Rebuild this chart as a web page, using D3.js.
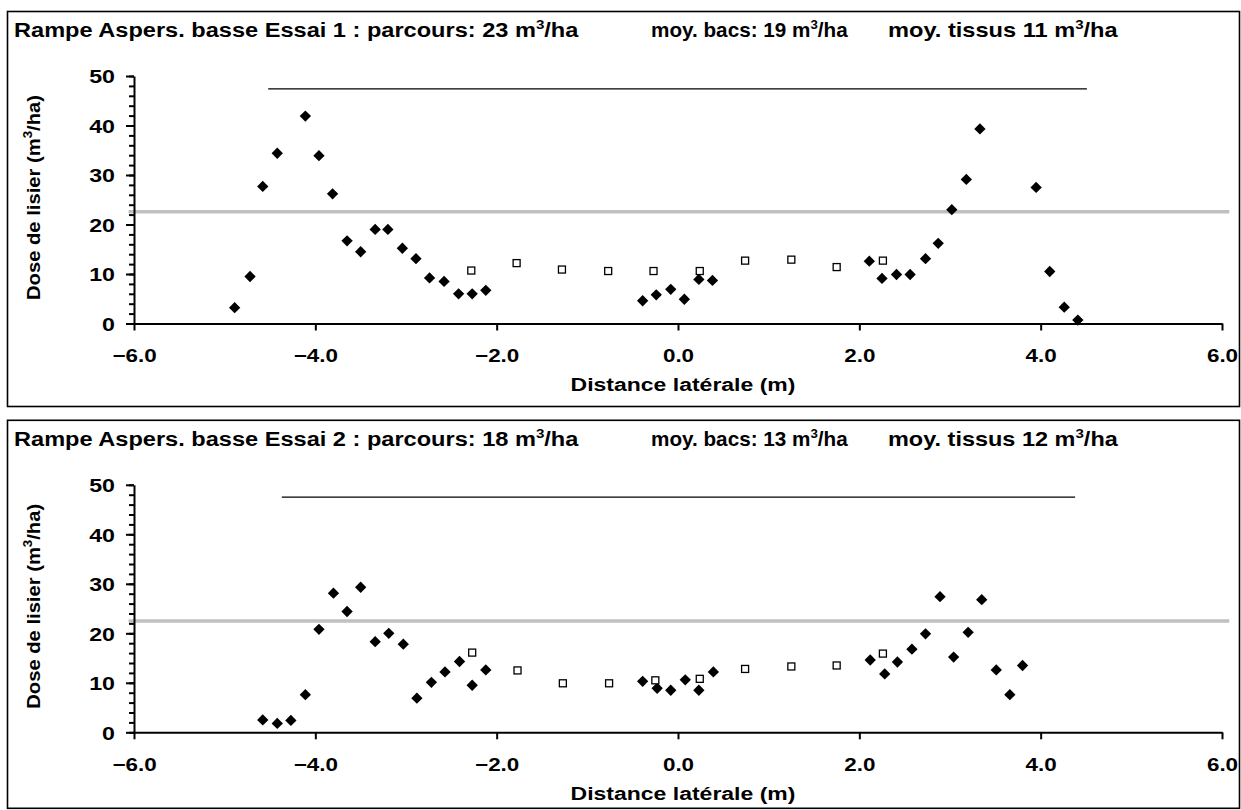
<!DOCTYPE html>
<html>
<head>
<meta charset="utf-8">
<script src="https://cdn.jsdelivr.net/npm/d3@7"></script>
<style>
  body { margin: 0; background: #fff; }
  svg { display: block; }
  text { font-family: "Liberation Sans", Arial, sans-serif; font-weight: bold; fill: #000; }
</style>
</head>
<body>
<svg id="chart" width="1241" height="810"></svg>
<script>
// ---- Essai 1 : tissue samples (black diamonds) ----
const essai1TissusX = [-4.89, -4.72, -4.58, -4.42, -4.11, -3.96, -3.81, -3.65, -3.50, -3.34, -3.20, -3.04, -2.89, -2.74, -2.58, -2.42, -2.27, -2.12,
                       -0.39, -0.24, -0.08, 0.07, 0.23, 0.38,
                       2.11, 2.25, 2.41, 2.56, 2.73, 2.87, 3.02, 3.18, 3.33, 3.95, 4.10, 4.26, 4.41];
const essai1TissusY = [3.2, 9.5, 27.7, 34.4, 41.9, 33.9, 26.2, 16.7, 14.5, 19.0, 19.0, 15.2, 13.1, 9.2, 8.5, 6.0, 6.0, 6.7,
                       4.6, 5.8, 6.9, 4.9, 8.9, 8.7,
                       12.6, 9.1, 9.9, 9.9, 13.1, 16.2, 23.0, 29.1, 39.3, 27.5, 10.5, 3.3, 0.7];
// ---- Essai 1 : collecting trays (open squares) ----
const essai1BacsX = [-2.28, -1.78, -1.28, -0.77, -0.27, 0.24, 0.74, 1.25, 1.75, 2.26];
const essai1BacsY = [10.7, 12.2, 10.9, 10.6, 10.6, 10.6, 12.7, 12.9, 11.4, 12.7];

// ---- Essai 2 : tissue samples ----
const essai2TissusX = [-4.58, -4.42, -4.27, -4.11, -3.96, -3.80, -3.65, -3.50, -3.34, -3.19, -3.03, -2.88, -2.72, -2.57, -2.41, -2.27, -2.12,
                       -0.39, -0.23, -0.08, 0.08, 0.23, 0.39,
                       2.12, 2.28, 2.42, 2.58, 2.73, 2.89, 3.04, 3.20, 3.35, 3.51, 3.66, 3.80];
const essai2TissusY = [2.5, 1.8, 2.4, 7.6, 20.8, 28.1, 24.4, 29.3, 18.3, 20.0, 17.8, 6.9, 10.1, 12.2, 14.3, 9.5, 12.6,
                       10.3, 8.9, 8.5, 10.6, 8.5, 12.2,
                       14.6, 11.8, 14.2, 16.8, 19.9, 27.4, 15.2, 20.2, 26.8, 12.6, 7.6, 13.5];
// ---- Essai 2 : collecting trays ----
const essai2BacsX = [-2.27, -1.77, -1.27, -0.76, -0.25, 0.24, 0.74, 1.25, 1.75, 2.26];
const essai2BacsY = [16.1, 12.5, 9.9, 9.9, 10.5, 10.8, 12.8, 13.3, 13.5, 15.9];

// ---- reference lines: [x start, x end, y] ----
const essai1GreyLine  = [-6.06, 6.08, 22.6];
const essai1BoomLine  = [-4.52, 4.51, 47.4];
const essai2GreyLine  = [-6.06, 6.08, 22.5];
const essai2BoomLine  = [-4.37, 4.38, 47.5];

// ---- titles ----
const essai1Title = ["Rampe Aspers. basse Essai 1 : parcours: 23", "moy. bacs: 19", "moy. tissus 11"];
const essai2Title = ["Rampe Aspers. basse Essai 2 : parcours: 18", "moy. bacs: 13", "moy. tissus 12"];

// ---- axes ----
const xTickValues = [-6, -4, -2, 0, 2, 4, 6];
const yTickValues = [0, 10, 20, 30, 40, 50];
const yMinorTickValues = d3.range(0, 51, 2);
const xDomain = [-6, 6];
const yDomain = [0, 50];
const xAxisTitle = "Distance latérale (m)";
const yAxisTitleParts = ["Dose de lisier (m", "3", "/ha)"];

const svg = d3.select("#chart");
const fmtX = d3.format(".1f");

// Stretch a text horizontally so that it spans the wanted width.
function fitWidth(sel, width) {
  const w = sel.node().getBBox().width;
  return w > 0 ? width / w : 1;
}

function drawPanel(cfg) {
  const g = svg.append("g");
  const top = cfg.top;

  // outer frame
  g.append("rect")
    .attr("x", 7.5).attr("y", top + 0.5)
    .attr("width", 1232).attr("height", cfg.height)
    .attr("fill", "none").attr("stroke", "#000").attr("stroke-width", 1.6);

  const y0 = top + 312.5;
  const x = d3.scaleLinear().domain(xDomain).range([134, 1222]);
  const y = d3.scaleLinear().domain(yDomain).range([y0, y0 - 247.5]);

  // title, three parts each ending with m³/ha
  const starts = [14, 651, 888];
  const widths = [565, 197, 230];
  cfg.title.forEach((t, i) => {
    const tx = g.append("text").attr("font-size", 19.5);
    tx.append("tspan").text(t + " m");
    tx.append("tspan").attr("font-size", 12.5).attr("dy", -8).text("3");
    tx.append("tspan").attr("dy", 8).text("/ha");
    const s = fitWidth(tx, widths[i]);
    tx.attr("transform", `translate(${starts[i]},${top + 26}) scale(${s},1)`);
  });

  // grey reference line
  g.append("line")
    .attr("x1", x(cfg.grey[0])).attr("x2", x(cfg.grey[1]))
    .attr("y1", y(cfg.grey[2])).attr("y2", y(cfg.grey[2]))
    .attr("stroke", "#c0c0c0").attr("stroke-width", 3.5);

  // boom width line
  g.append("line")
    .attr("x1", x(cfg.boom[0])).attr("x2", x(cfg.boom[1]))
    .attr("y1", y(cfg.boom[2])).attr("y2", y(cfg.boom[2]))
    .attr("stroke", "#000").attr("stroke-width", 1.3);

  // y axis: minor then major ticks
  g.append("g").attr("transform", "translate(134,0)")
    .call(d3.axisLeft(y).tickValues(yMinorTickValues).tickSize(5).tickFormat(""))
    .call(a => a.select(".domain").remove())
    .call(a => a.selectAll("line").attr("stroke-width", 2));
  const ya = g.append("g").attr("transform", "translate(134,0)")
    .call(d3.axisLeft(y).tickValues(yTickValues).tickSize(8).tickSizeOuter(0).tickPadding(0));
  ya.select(".domain").attr("stroke-width", 2);
  ya.selectAll("line").attr("stroke-width", 2);
  ya.selectAll("text")
    .attr("font-size", 19).attr("font-family", null)
    .attr("x", -19 / 1.22).attr("dy", "0.36em")
    .attr("transform", "scale(1.22,1)");

  // x axis
  const xa = g.append("g").attr("transform", `translate(0,${y0})`)
    .call(d3.axisBottom(x).tickValues(xTickValues).tickFormat(fmtX).tickSize(7).tickSizeOuter(0).tickPadding(0));
  xa.select(".domain").attr("stroke-width", 2);
  xa.selectAll("line").attr("stroke-width", 2);
  xa.selectAll("text")
    .attr("font-size", 19).attr("font-family", null)
    .attr("y", 31.5).attr("dy", "0.36em")
    .attr("transform", "scale(1.18,1)");

  // x axis title
  const xt = g.append("text").attr("font-size", 19).attr("text-anchor", "middle").text(xAxisTitle);
  const sx = fitWidth(xt, 225);
  xt.attr("transform", `translate(683,${y0 + 67.5}) scale(${sx},1)`);

  // y axis title (rotated)
  const yt = g.append("text").attr("font-size", 19).attr("text-anchor", "middle");
  yt.append("tspan").text(yAxisTitleParts[0]);
  yt.append("tspan").attr("font-size", 12.5).attr("dy", -8).text(yAxisTitleParts[1]);
  yt.append("tspan").attr("dy", 8).text(yAxisTitleParts[2]);
  const sy = fitWidth(yt, 205);
  yt.attr("transform", `translate(40,${y0 - 126}) rotate(-90) scale(${sy},1)`);

  // tissue samples: filled diamonds
  const diamond = d3.symbol().type(d3.symbolSquare).size(64);
  g.append("g").selectAll("path")
    .data(d3.zip(cfg.tissusX, cfg.tissusY))
    .join("path")
    .attr("d", diamond)
    .attr("transform", d => `translate(${x(d[0])},${y(d[1])}) rotate(45)`)
    .attr("fill", "#000");

  // trays: open squares
  g.append("g").selectAll("rect")
    .data(d3.zip(cfg.bacsX, cfg.bacsY))
    .join("rect")
    .attr("x", d => x(d[0]) - 3.5).attr("y", d => y(d[1]) - 3.5)
    .attr("width", 7).attr("height", 7)
    .attr("fill", "#fff").attr("stroke", "#000").attr("stroke-width", 1.3);
}

drawPanel({
  top: 11, height: 395,
  title: essai1Title,
  tissusX: essai1TissusX, tissusY: essai1TissusY,
  bacsX: essai1BacsX, bacsY: essai1BacsY,
  grey: essai1GreyLine, boom: essai1BoomLine
});
drawPanel({
  top: 419.8, height: 388,
  title: essai2Title,
  tissusX: essai2TissusX, tissusY: essai2TissusY,
  bacsX: essai2BacsX, bacsY: essai2BacsY,
  grey: essai2GreyLine, boom: essai2BoomLine
});
</script>
</body>
</html>
